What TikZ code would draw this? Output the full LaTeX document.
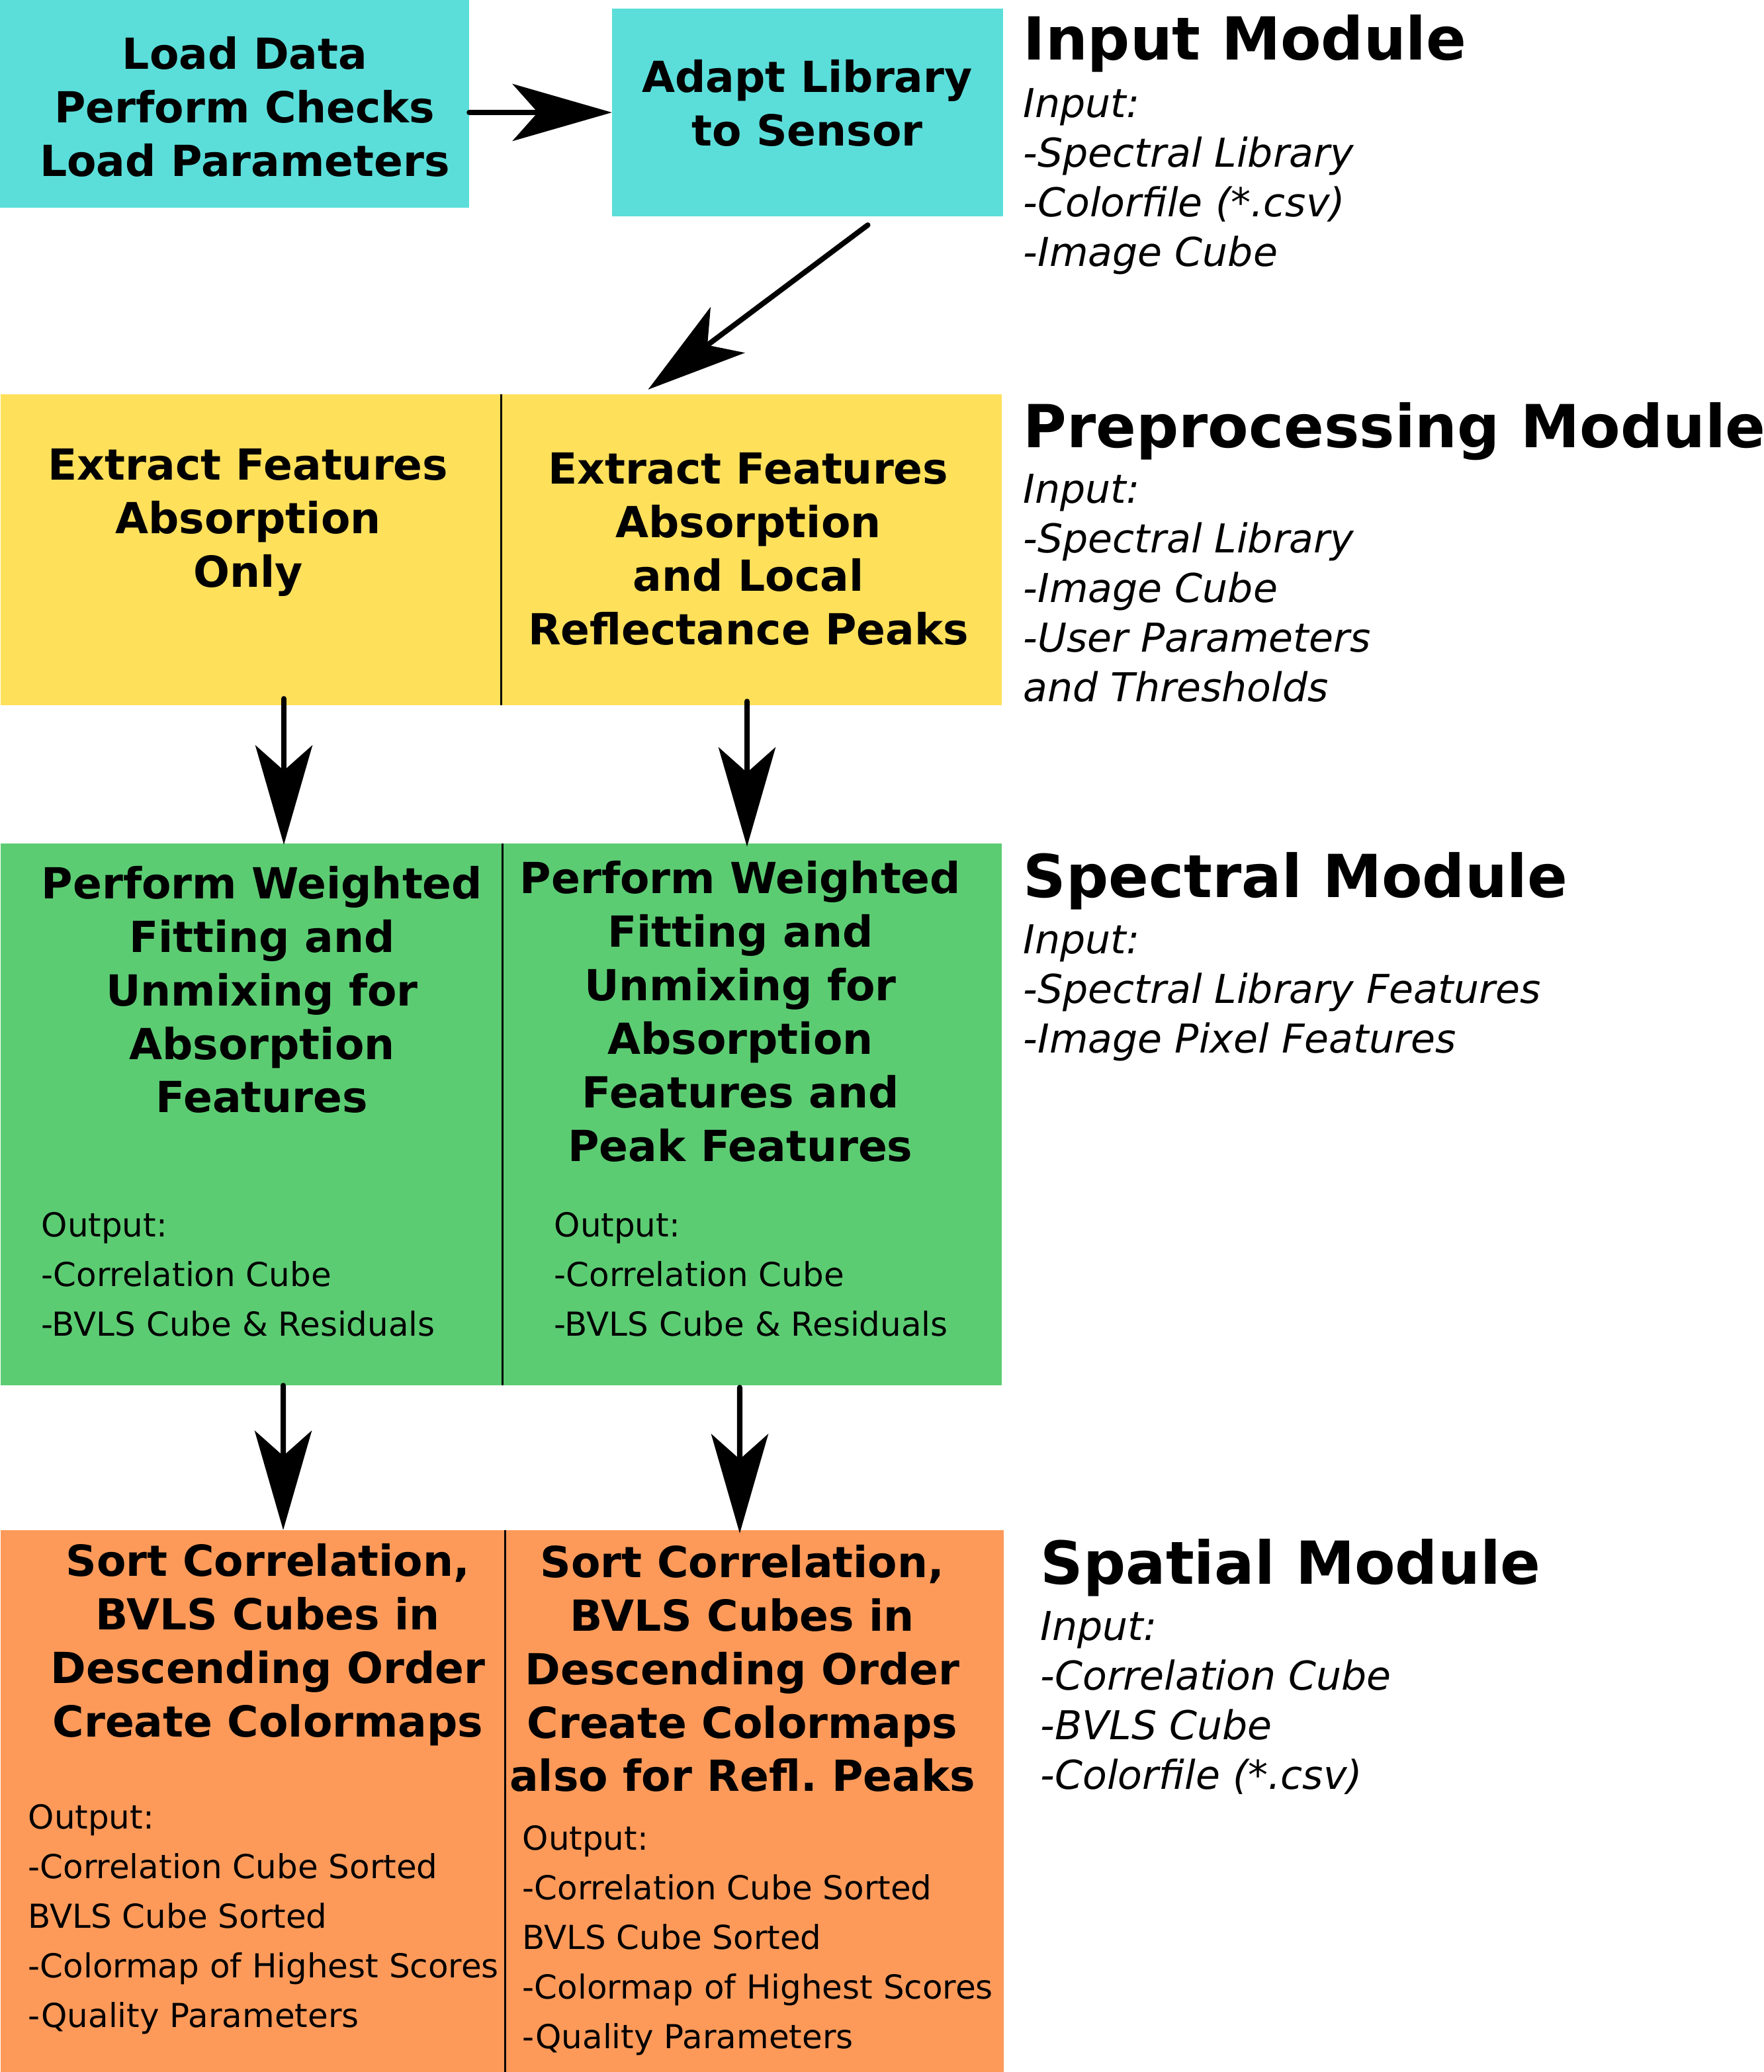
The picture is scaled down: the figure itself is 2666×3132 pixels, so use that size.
\documentclass[tikz,border=0pt]{standalone}
\usepackage{fontspec}
\setmainfont{DejaVu Sans}
\usetikzlibrary{arrows.meta}
\frenchspacing

\definecolor{inputcyan}{RGB}{91,222,218}
\definecolor{preyellow}{RGB}{255,224,91}
\definecolor{specgreen}{RGB}{92,204,115}
\definecolor{spatorange}{RGB}{253,154,90}

\tikzset{
  cell/.style={inner sep=0pt, outer sep=0pt},
  boxtext/.style={font=\fontsize{18.4}{23}\selectfont\bfseries, align=center, inner sep=0pt},
  outtext/.style={font=\fontsize{14.2}{21.3}\selectfont, align=left, anchor=north west, inner sep=0pt},
  headtext/.style={font=\fontsize{25.5}{30}\selectfont\bfseries, anchor=base west, inner sep=0pt},
  intext/.style={font=\fontsize{17.1}{21.3}\selectfont\itshape, align=left, anchor=north west, inner sep=0pt},
  flow/.style={line width=0.08cm, line cap=round, -{Stealth[length=1.5cm,width=0.86cm,inset=0.38cm]}},
  divider/.style={line width=0.03cm},
}

\begin{document}
\begin{tikzpicture}[x=0.01cm,y=-0.01cm]
\useasboundingbox (0,0) rectangle (2666,3132);

%Shape: Rectangle, input boxes
\node (load) [cell, fill=inputcyan, minimum width=7.09cm, minimum height=3.14cm] at (354.5,157) {};
\node (adapt) [cell, fill=inputcyan, minimum width=5.91cm, minimum height=3.14cm] at (1220.5,170) {};
%Shape: Rectangle, preprocessing cells
\node (featabs) [cell, fill=preyellow, minimum width=7.56cm, minimum height=4.70cm] at (379,831) {};
\node (featpeak) [cell, fill=preyellow, minimum width=7.57cm, minimum height=4.70cm] at (1135.5,831) {};
%Shape: Rectangle, spectral cells
\node (fitabs) [cell, fill=specgreen, minimum width=7.58cm, minimum height=8.19cm] at (380,1684.5) {};
\node (fitpeak) [cell, fill=specgreen, minimum width=7.55cm, minimum height=8.19cm] at (1136.5,1684.5) {};
%Shape: Rectangle, spatial cells
\node (sortabs) [cell, fill=spatorange, minimum width=7.62cm, minimum height=8.19cm] at (382,2722.5) {};
\node (sortpeak) [cell, fill=spatorange, minimum width=7.54cm, minimum height=8.19cm] at (1140,2722.5) {};

%Straight Lines, dividers
\draw [divider] (featabs.north east) -- (featabs.south east);
\draw [divider] (fitabs.north east) -- (fitabs.south east);
\draw [divider] (sortabs.north east) -- (sortabs.south east);

%Straight Lines, arrows
\draw [flow] (load.east |- adapt.west) -- (adapt.west);
\draw [flow] ([xshift=0.91cm,yshift=-0.13cm]adapt.south) -- ([xshift=-1.56cm,yshift=0.07cm]featpeak.north);
\draw [flow] ([xshift=0.50cm,yshift=0.10cm]featabs.south) -- ([xshift=0.49cm,yshift=-0.02cm]fitabs.north);
\draw [flow] ([xshift=-0.065cm,yshift=0.06cm]featpeak.south) -- ([xshift=-0.075cm,yshift=-0.05cm]fitpeak.north);
\draw [flow] ([xshift=0.48cm]fitabs.south) -- ([xshift=0.46cm]sortabs.north);
\draw [flow] ([xshift=-0.185cm,yshift=-0.03cm]fitpeak.south) -- ([xshift=-0.22cm,yshift=-0.05cm]sortpeak.north);

% Text Node
\node (loadtxt) [boxtext] at (370,161) {Load Data\\Perform Checks\\Load Parameters};
% Text Node
\node (adapttxt) [boxtext] at (1220,156) {Adapt Library\\to Sensor};
% Text Node
\node (featabstxt) [boxtext] at (375,790) {Extract Features\\Absorption\\Only};
% Text Node
\node (featpeaktxt) [boxtext] at (1131,830) {Extract Features\\Absorption\\and Local\\Reflectance Peaks};
% Text Node
\node (fitabstxt) [boxtext] at (396,1496) {Perform Weighted\\Fitting and\\Unmixing for\\Absorption\\Features};
% Text Node
\node (fitpeaktxt) [boxtext] at (1119,1529) {Perform Weighted\\Fitting and\\Unmixing for\\Absorption\\Features and\\Peak Features};
% Text Node
\node (sortabstxt) [boxtext] at (405,2486) {Sort Correlation,\\BVLS Cubes in\\Descending Order\\Create Colormaps};
% Text Node
\node (sortpeaktxt) [boxtext] at (1122,2522) {Sort Correlation,\\BVLS Cubes in\\Descending Order\\Create Colormaps\\also for Refl. Peaks};

% Text Node, outputs
\node (fitabsout) [outtext] at (62,1832) {Output:\\-Correlation Cube\\-BVLS Cube \& Residuals};
\node (fitpeakout) [outtext] at (837,1832) {Output:\\-Correlation Cube\\-BVLS Cube \& Residuals};
\node (sortabsout) [outtext] at (42,2727) {Output:\\-Correlation Cube Sorted\\BVLS Cube Sorted\\-Colormap of Highest Scores\\-Quality Parameters};
\node (sortpeakout) [outtext] at (789,2759) {Output:\\-Correlation Cube Sorted\\BVLS Cube Sorted\\-Colormap of Highest Scores\\-Quality Parameters};

% Text Node, module descriptions
\node (inputhead) [headtext] at (1546,90) {Input Module};
\node (inputlist) [intext] at (1546,133) {Input:\\-Spectral Library\\-Colorfile (*.csv)\\-Image Cube};
\node (prehead) [headtext] at (1546,676) {Preprocessing Module};
\node (prelist) [intext] at (1546,716) {Input:\\-Spectral Library\\-Image Cube\\-User Parameters\\and Thresholds};
\node (spechead) [headtext] at (1546,1356) {Spectral Module};
\node (speclist) [intext] at (1546,1397) {Input:\\-Spectral Library Features\\-Image Pixel Features};
\node (spathead) [headtext] at (1572,2394) {Spatial Module};
\node (spatlist) [intext] at (1572,2435) {Input:\\-Correlation Cube\\-BVLS Cube\\-Colorfile (*.csv)};

\end{tikzpicture}
\end{document}
